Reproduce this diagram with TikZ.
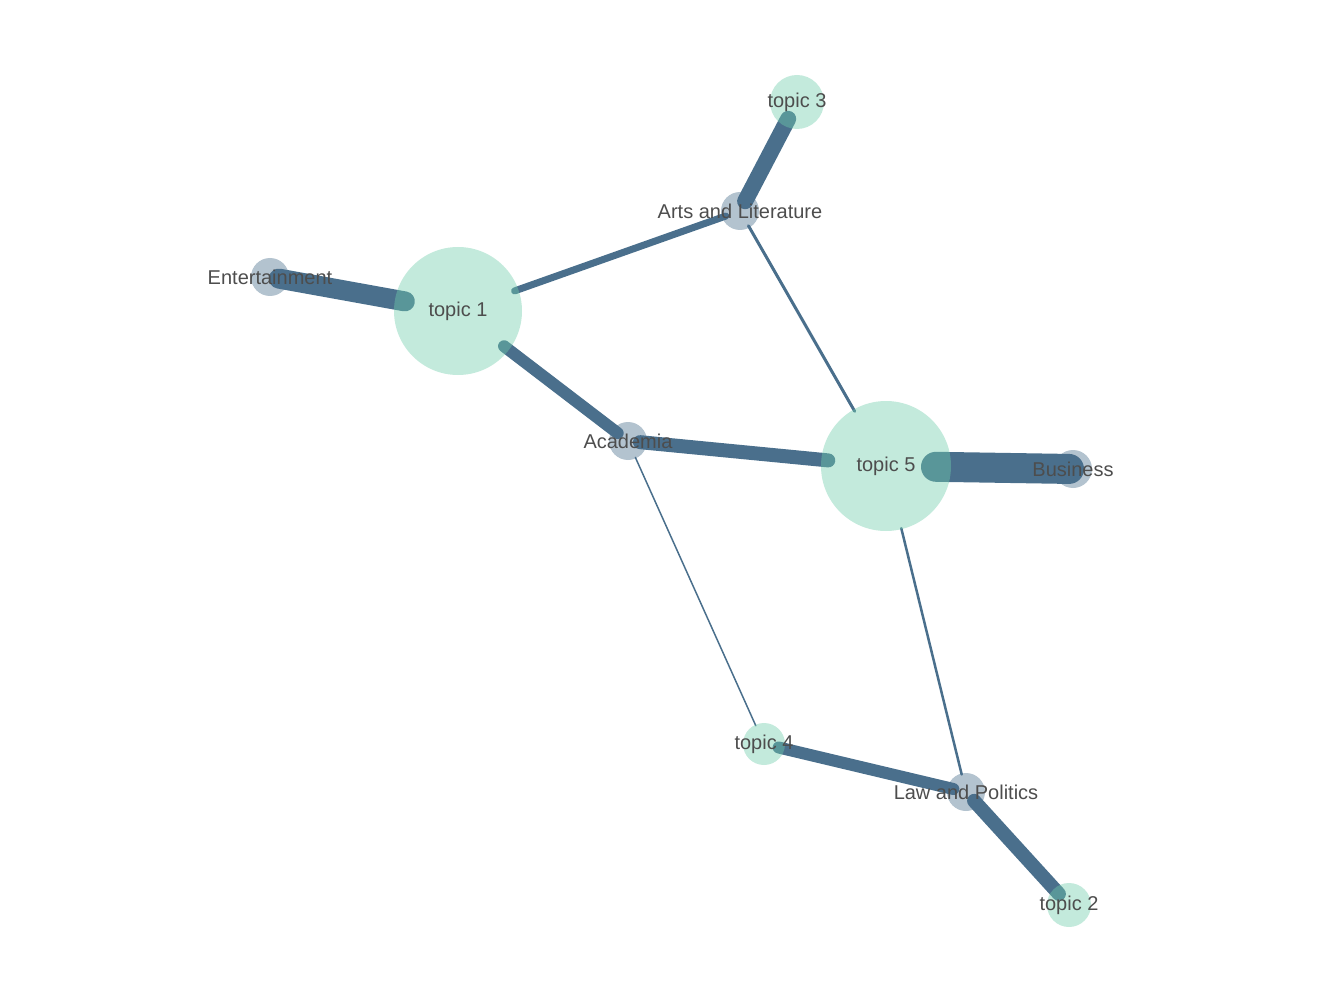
\documentclass[tikz,border=0pt]{standalone}
\usepackage{fontspec}
\setmainfont{Liberation Sans}
\definecolor{edgec}{RGB}{74,111,140}
\definecolor{topicc}{RGB}{112,205,171}
\definecolor{labc}{RGB}{77,77,77}
\begin{document}
\begin{tikzpicture}[x=1pt,y=-1pt,
  topicn/.style={circle,fill=topicc,fill opacity=0.42,inner sep=0pt,minimum size=#1},
  catn/.style={circle,fill=edgec,fill opacity=0.42,inner sep=0pt,minimum size=38pt},
  lab/.style={text=labc,font=\fontsize{20}{22}\selectfont,inner sep=0pt},
  ed/.style={draw=edgec,line cap=round}]
\useasboundingbox (0,0) rectangle (1344,1008);
\coordinate (t1) at (458,311);
\coordinate (t5) at (886,466);
\coordinate (t3) at (797,102);
\coordinate (t4) at (764,744);
\coordinate (t2) at (1069,905);
\coordinate (en) at (270,277);
\coordinate (ar) at (740,211);
\coordinate (ac) at (628,441);
\coordinate (bu) at (1073,469);
\coordinate (la) at (966,792);
% edges
\draw[ed,line width=20pt,shorten <=9pt,shorten >=54pt] (en) -- (t1);
\draw[ed,line width=7pt,shorten <=60pt,shorten >=15pt] (t1) -- (ar);
\draw[ed,line width=12pt,shorten <=58pt,shorten >=13pt] (t1) -- (ac);
\draw[ed,line width=14pt,shorten <=12pt,shorten >=58pt] (ac) -- (t5);
\draw[ed,line width=30pt,shorten <=50pt,shorten >=4pt] (t5) -- (bu);
\draw[ed,line width=16pt,shorten <=11pt,shorten >=19pt] (ar) -- (t3);
\draw[ed,line width=3pt,shorten <=17pt,shorten >=63pt] (ar) -- (t5);
\draw[ed,line width=1.5pt,shorten <=18pt,shorten >=20pt] (ac) -- (t4);
\draw[ed,line width=2.5pt,shorten <=64pt,shorten >=18pt] (t5) -- (la);
\draw[ed,line width=12pt,shorten <=15pt,shorten >=13pt] (t4) -- (la);
\draw[ed,line width=14pt,shorten <=12pt,shorten >=15pt] (la) -- (t2);
% nodes
\node[topicn=128pt] (n1) at (t1) {};
\node[topicn=130pt] (n5) at (t5) {};
\node[topicn=54pt] (n3) at (t3) {};
\node[topicn=42pt] (n4) at (t4) {};
\node[topicn=44pt] (n2) at (t2) {};
\node[catn] (nen) at (en) {};
\node[catn] (nar) at (ar) {};
\node[catn] (nac) at (ac) {};
\node[catn] (nbu) at (bu) {};
\node[catn] (nla) at (la) {};
% labels
\node[lab] (l1) at (t1) {topic 1};
\node[lab] (l5) at (t5) {topic 5};
\node[lab] (l3) at (t3) {topic 3};
\node[lab] (l4) at (t4) {topic 4};
\node[lab] (l2) at (t2) {topic 2};
\node[lab] (len) at (en) {Entertainment};
\node[lab] (lar) at (ar) {Arts and Literature};
\node[lab] (lac) at (ac) {Academia};
\node[lab] (lbu) at (bu) {Business};
\node[lab] (lla) at (la) {Law and Politics};
\end{tikzpicture}
\end{document}
